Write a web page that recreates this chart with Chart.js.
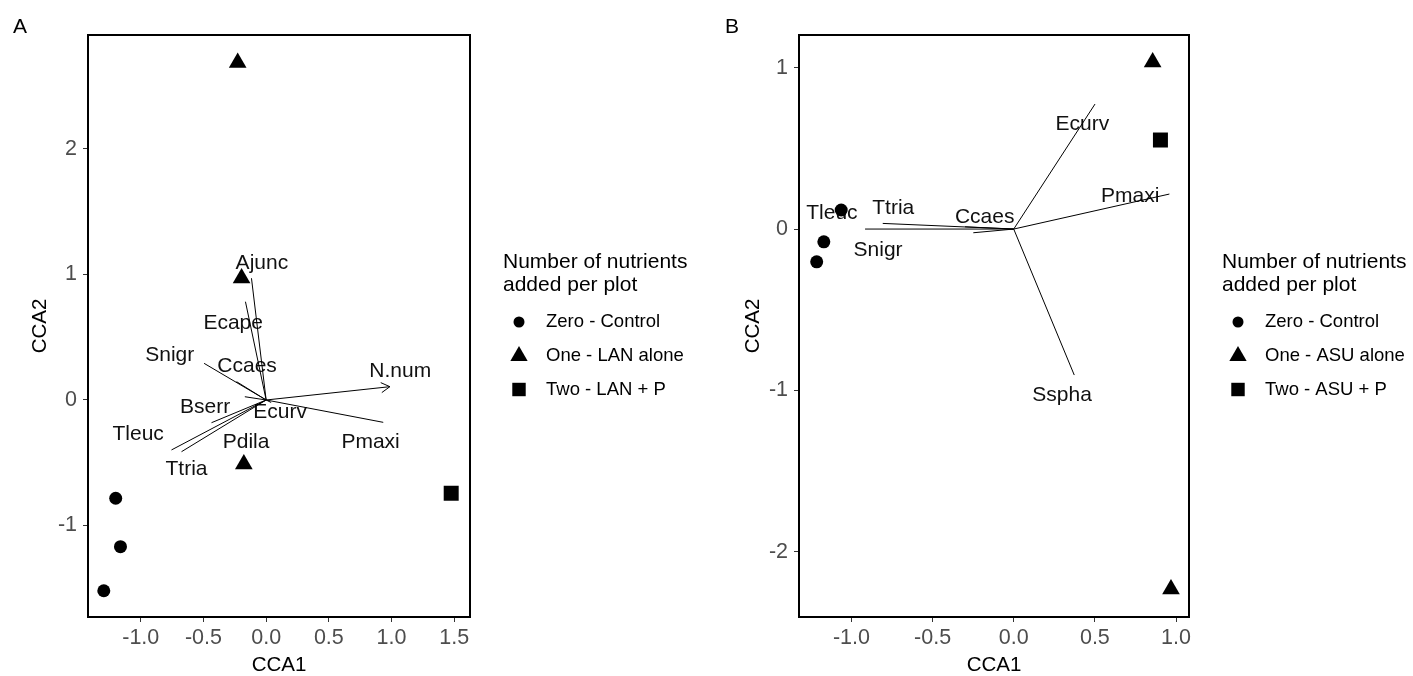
<!DOCTYPE html>
<html>
<head>
<meta charset="utf-8">
<script src="https://cdn.jsdelivr.net/npm/chart.js@4/dist/chart.umd.min.js"></script>
<style>
  html, body { margin: 0; padding: 0; background: #fff; width: 1413px; height: 676px; overflow: hidden; }
  .wrap { position: absolute; top: 0; height: 676px; }
  #wa { left: 0; width: 706px; }
  #wb { left: 706px; width: 707px; }
  canvas { display: block; }
</style>
</head>
<body>
<div id="wa" class="wrap"><canvas id="ca" width="706" height="676"></canvas></div>
<div id="wb" class="wrap"><canvas id="cb" width="707" height="676"></canvas></div>
<script>
const FONT = "'Liberation Sans', Arial, Helvetica, sans-serif";

// ---------- shared text ----------
const legendTitle = ['Number of nutrients', 'added per plot'];
const xTitle = 'CCA1';
const yTitle = 'CCA2';

// ---------- Panel A data ----------
const groupsA = ['Zero - Control', 'One - LAN alone', 'Two - LAN + P'];
const xTicksA = [-1.0, -0.5, 0.0, 0.5, 1.0, 1.5];
const xTickLabelsA = ['-1.0', '-0.5', '0.0', '0.5', '1.0', '1.5'];
const yTicksA = [-1, 0, 1, 2];
const yTickLabelsA = ['-1', '0', '1', '2'];
const xRangeA = [-1.421, 1.626];
const yRangeA = [-1.729, 2.908];
const zeroXA = [-1.200, -1.162, -1.295];
const zeroYA = [-0.783, -1.169, -1.520];
const oneXA = [-0.227, -0.196, -0.178];
const oneYA = [2.688, 0.970, -0.512];
const twoXA = [1.476];
const twoYA = [-0.743];
const speciesA = ['Ajunc', 'Ecape', 'Snigr', 'Ccaes', 'N.num', 'Bserr', 'Ecurv', 'Tleuc', 'Pdila', 'Pmaxi', 'Ttria'];
const arrowXA = [-0.117, -0.165, -0.495, -0.236, 0.987, -0.170, 0.040, -0.755, -0.436, 0.934, -0.675];
const arrowYA = [0.970, 0.783, 0.292, 0.146, 0.106, 0.026, -0.020, -0.398, -0.181, -0.178, -0.412];
const labelXA = [-0.034, -0.263, -0.769, -0.152, 1.070, -0.487, 0.112, -1.021, -0.160, 0.833, -0.635];
const labelYA = [1.089, 0.614, 0.356, 0.266, 0.226, -0.056, -0.098, -0.271, -0.337, -0.337, -0.550];
const headedA = ['N.num'];

// ---------- Panel B data ----------
const groupsB = ['Zero - Control', 'One - ASU alone', 'Two - ASU + P'];
const xTicksB = [-1.0, -0.5, 0.0, 0.5, 1.0];
const xTickLabelsB = ['-1.0', '-0.5', '0.0', '0.5', '1.0'];
const yTicksB = [-2, -1, 0, 1];
const yTickLabelsB = ['-2', '-1', '0', '1'];
const xRangeB = [-1.323, 1.080];
const yRangeB = [-2.405, 1.203];
const zeroXB = [-1.063, -1.170, -1.214];
const zeroYB = [0.118, -0.079, -0.203];
const oneXB = [0.856, 0.969];
const oneYB = [1.035, -2.232];
const twoXB = [0.904];
const twoYB = [0.552];
const speciesB = ['Ecurv', 'Pmaxi', 'Sspha', 'Tleuc', 'Ttria', 'Ccaes', 'Snigr'];
const arrowXB = [0.501, 0.959, 0.373, -0.916, -0.807, -0.300, -0.249];
const arrowYB = [0.775, 0.217, -0.905, 0.000, 0.035, 0.014, -0.023];
const labelXB = [0.423, 0.718, 0.298, -1.120, -0.742, -0.179, -0.836];
const labelYB = [0.649, 0.206, -1.033, 0.101, 0.132, 0.076, -0.130];
const headedB = [];

// ---------- styling ----------
const groupStyles = [
  { pointStyle: 'circle', radius: 6.5, legendRadius: 5.5 },
  { pointStyle: 'triangle', radius: 10.2, legendRadius: 10 },
  { pointStyle: 'rect', radius: 10.6, legendRadius: 9.5 }
];

function pts(xs, ys) { return xs.map((v, i) => ({ x: v, y: ys[i] })); }

function drawMarker(ctx, style, r, x, y) {
  ctx.save();
  ctx.fillStyle = '#000';
  ctx.beginPath();
  if (style === 'circle') {
    ctx.arc(x, y, r, 0, Math.PI * 2);
  } else if (style === 'triangle') {
    ctx.moveTo(x, y - r);
    ctx.lineTo(x + r * Math.sin(2 * Math.PI / 3), y - r * Math.cos(2 * Math.PI / 3));
    ctx.lineTo(x + r * Math.sin(4 * Math.PI / 3), y - r * Math.cos(4 * Math.PI / 3));
    ctx.closePath();
  } else {
    const s = r * Math.SQRT1_2;
    ctx.rect(x - s, y - s, 2 * s, 2 * s);
  }
  ctx.fill();
  ctx.restore();
}

function makePanel(canvasId, p) {
  const datasets = [];
  p.groups.forEach((g, gi) => {
    datasets.push({
      label: g,
      data: pts(p.groupX[gi], p.groupY[gi]),
      pointStyle: groupStyles[gi].pointStyle,
      pointRadius: groupStyles[gi].radius,
      pointBorderWidth: 0,
      backgroundColor: '#000',
      borderColor: '#000',
      showLine: false
    });
  });
  p.species.forEach((s, i) => {
    datasets.push({
      label: s,
      data: [{ x: 0, y: 0 }, { x: p.arrowX[i], y: p.arrowY[i] }],
      showLine: true,
      borderColor: '#000',
      borderWidth: 1,
      pointRadius: 0,
      fill: false
    });
  });

  const plugin = {
    id: 'panelDecor' + p.letter,
    beforeDatasetsDraw(chart) {
      const { ctx, scales: { x, y } } = chart;
      ctx.save();
      ctx.font = '21px ' + FONT;
      ctx.fillStyle = '#111';
      ctx.textAlign = 'center';
      ctx.textBaseline = 'middle';
      p.species.forEach((s, i) => {
        ctx.fillText(s, x.getPixelForValue(p.labelX[i]), y.getPixelForValue(p.labelY[i]));
      });
      ctx.restore();
    },
    afterDatasetsDraw(chart) {
      const { ctx, scales: { x, y } } = chart;
      ctx.save();
      ctx.strokeStyle = '#000';
      ctx.lineWidth = 1;
      p.species.forEach((s, i) => {
        if (p.headed.indexOf(s) < 0) return;
        const x0 = x.getPixelForValue(0), y0 = y.getPixelForValue(0);
        const x1 = x.getPixelForValue(p.arrowX[i]), y1 = y.getPixelForValue(p.arrowY[i]);
        const ang = Math.atan2(y1 - y0, x1 - x0);
        const L = 10, a = Math.PI / 6;
        ctx.beginPath();
        ctx.moveTo(x1 - L * Math.cos(ang - a), y1 - L * Math.sin(ang - a));
        ctx.lineTo(x1, y1);
        ctx.lineTo(x1 - L * Math.cos(ang + a), y1 - L * Math.sin(ang + a));
        ctx.stroke();
      });
      ctx.restore();
    },
    afterDraw(chart) {
      const { ctx, chartArea: a } = chart;
      ctx.save();
      ctx.strokeStyle = '#000';
      ctx.lineWidth = 2;
      ctx.strokeRect(a.left, a.top, a.right - a.left, a.bottom - a.top);

      ctx.fillStyle = '#000';
      ctx.font = '21px ' + FONT;
      ctx.textAlign = 'left';
      ctx.textBaseline = 'alphabetic';
      ctx.fillText(p.letter, p.letterX, 33);

      const lx = a.right + 33;
      ctx.textBaseline = 'middle';
      ctx.font = '21px ' + FONT;
      ctx.fillText(legendTitle[0], lx, 262);
      ctx.fillText(legendTitle[1], lx, 285);
      ctx.font = '18.5px ' + FONT;
      const rows = [322, 356, 389.5];
      p.groups.forEach((g, gi) => {
        drawMarker(ctx, groupStyles[gi].pointStyle, groupStyles[gi].legendRadius, a.right + 49, rows[gi]);
        ctx.fillStyle = '#000';
        ctx.fillText(g, a.right + 76, rows[gi]);
      });
      ctx.restore();
    }
  };

  const tickFont = { family: FONT, size: 21.5 };
  const titleFont = { family: FONT, size: 20.5, lineHeight: 1 };

  return new Chart(document.getElementById(canvasId), {
    type: 'scatter',
    data: { datasets },
    options: {
      responsive: false,
      maintainAspectRatio: false,
      animation: false,
      events: [],
      layout: { padding: { left: 0, top: 35, right: p.rightPad, bottom: 0 } },
      plugins: { legend: { display: false }, tooltip: { enabled: false } },
      scales: {
        x: {
          type: 'linear',
          min: p.xRange[0],
          max: p.xRange[1],
          afterBuildTicks: s => { s.ticks = p.xTicks.map(v => ({ value: v })); },
          afterFit: s => { s.height = 59; },
          border: { display: false },
          grid: { drawOnChartArea: false, drawTicks: true, tickLength: 5, color: '#333', lineWidth: 1 },
          ticks: {
            color: '#4d4d4d', font: tickFont, padding: 3.5, maxRotation: 0, autoSkip: false,
            callback: (v, i) => p.xTickLabels[i]
          },
          title: { display: true, text: xTitle, color: '#000', font: titleFont, padding: { top: 0, bottom: 0 } }
        },
        y: {
          type: 'linear',
          min: p.yRange[0],
          max: p.yRange[1],
          afterBuildTicks: s => { s.ticks = p.yTicks.map(v => ({ value: v })); },
          afterFit: s => { s.width = p.yAxisWidth; },
          border: { display: false },
          grid: { drawOnChartArea: false, drawTicks: true, tickLength: 5, color: '#333', lineWidth: 1 },
          ticks: {
            color: '#4d4d4d', font: tickFont, padding: 6, autoSkip: false,
            callback: (v, i) => p.yTickLabels[i]
          },
          title: { display: true, text: yTitle, color: '#000', font: titleFont, padding: { top: p.yTitlePad, bottom: 0 } }
        }
      }
    },
    plugins: [plugin]
  });
}

makePanel('ca', {
  letter: 'A', letterX: 13,
  groups: groupsA,
  groupX: [zeroXA, oneXA, twoXA], groupY: [zeroYA, oneYA, twoYA],
  species: speciesA, arrowX: arrowXA, arrowY: arrowYA, labelX: labelXA, labelY: labelYA, headed: headedA,
  xTicks: xTicksA, xTickLabels: xTickLabelsA, yTicks: yTicksA, yTickLabels: yTickLabelsA,
  xRange: xRangeA, yRange: yRangeA,
  rightPad: 706 - 470, yAxisWidth: 88, yTitlePad: 30
});

makePanel('cb', {
  letter: 'B', letterX: 19,
  groups: groupsB,
  groupX: [zeroXB, oneXB, twoXB], groupY: [zeroYB, oneYB, twoYB],
  species: speciesB, arrowX: arrowXB, arrowY: arrowYB, labelX: labelXB, labelY: labelYB, headed: headedB,
  xTicks: xTicksB, xTickLabels: xTickLabelsB, yTicks: yTicksB, yTickLabels: yTickLabelsB,
  xRange: xRangeB, yRange: yRangeB,
  rightPad: 707 - 483, yAxisWidth: 93, yTitlePad: 37
});
</script>
</body>
</html>
